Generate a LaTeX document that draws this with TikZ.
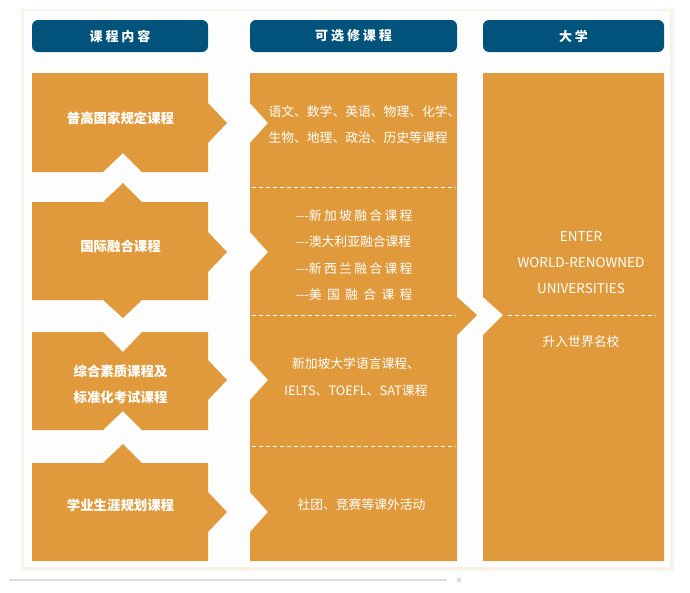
\documentclass[tikz,border=0pt]{standalone}
\usepackage{fontspec}
\newfontfamily\cjk{Noto Sans CJK SC}
\usetikzlibrary{positioning}
\definecolor{hdrblue}{RGB}{2,83,123}
\definecolor{boxorange}{RGB}{224,154,59}
\definecolor{cardshade}{RGB}{244,238,220}
\definecolor{cardwhite}{RGB}{253,253,253}
\definecolor{rulegray}{RGB}{222,222,222}

\begin{document}
\begin{tikzpicture}[x=1pt,y=1pt,yscale=-1,xscale=1,
  hdr/.style={fill=hdrblue,rounded corners=6pt,minimum height=32pt,inner sep=0pt,text=white,font=\cjk\bfseries\fontsize{13}{15}\selectfont},
  lbl/.style={text=white,font=\cjk\bfseries\fontsize{13.4}{26}\selectfont,align=center},
  txt/.style={text=white,font=\cjk\fontsize{12.8}{26.5}\selectfont},
  sep/.style={draw=white,line width=1pt,dash pattern={on 4pt off 3pt}}]
 		\useasboundingbox (0,0) rectangle (690,592);
 		
 		%Shape: Card with shadow
 		\fill [cardshade,opacity=0.35] (20,8) rectangle (675,572);
 		\fill [cardshade,opacity=0.6] (22,10) rectangle (673,570);
 		\fill [cardwhite] (24,11) rectangle (670,567);
 		%Straight Lines: rule under the card
 		\draw [rulegray,line width=1.2pt] (9,580) -- (447,580);
 		\fill [rulegray] (459,580) circle (2.5);
 		
 		%Shape: left box 1
 		\fill [boxorange] (32,73) -- (208,73) -- (208,103) -- (227,123) -- (208,143) -- (208,172) -- (142,172) -- (123,153) -- (103,172) -- (32,172) -- cycle ;
 		%Shape: left box 2
 		\fill [boxorange] (32,202) -- (103,202) -- (123,183) -- (142,202) -- (208,202) -- (208,232) -- (227,252) -- (208,272) -- (208,300) -- (142,300) -- (123,318) -- (103,300) -- (32,300) -- cycle ;
 		%Shape: left box 3
 		\fill [boxorange] (32,332) -- (103,332) -- (123,352) -- (142,332) -- (208,332) -- (208,360) -- (227,380) -- (208,400) -- (208,430) -- (142,430) -- (123,411) -- (103,430) -- (32,430) -- cycle ;
 		%Shape: left box 4
 		\fill [boxorange] (32,463) -- (103,463) -- (123,444) -- (142,463) -- (208,463) -- (208,492) -- (227,512) -- (208,532) -- (208,561) -- (32,561) -- cycle ;
 		
 		%Shape: middle column
 		\fill [boxorange] (250,73) -- (457,73) -- (457,297) -- (477,315) -- (457,335) -- (457,561) -- (250,561) -- (250,532) -- (268,512) -- (250,492) -- (250,400) -- (268,380) -- (250,360) -- (250,272) -- (268,252) -- (250,232) -- (250,143) -- (268,123) -- (250,103) -- cycle ;
 		%Shape: right column
 		\fill [boxorange] (483,73) -- (664,73) -- (664,561) -- (483,561) -- (483,335) -- (503,315) -- (483,297) -- cycle ;
 		
 		%Straight Lines: dashed separators
 		\draw [sep] (252,187) -- (456,187) ;
 		\draw [sep] (252,315) -- (456,315) ;
 		\draw [sep] (252,446) -- (456,446) ;
 		\draw [sep] (508,315) -- (656,315) ;
 		
 		% Header Nodes
 		\draw (120,36) node (hdrcontent) [hdr,minimum width=176pt] {课 程 内 容};
 		\draw (353.5,36) node (hdroptional) [hdr,minimum width=207pt] {可 选 修 课 程};
 		\draw (573.5,36) node (hdruniv) [hdr,minimum width=181pt] {大 学};
 		
 		% Text Node
 		\draw (120.5,118) node (national) [lbl] {普高国家规定课程};
 		% Text Node
 		\draw (120.5,246) node (fusion) [lbl] {国际融合课程};
 		% Text Node
 		\draw (120.5,384) node (quality) [lbl] {综合素质课程及\\标准化考试课程};
 		% Text Node
 		\draw (120.5,505) node (career) [lbl] {学业生涯规划课程};
 		
 		% Text Node
 		\draw (265,124.5) node (subjects) [txt,anchor=west,align=left] {语文、数学、英语、物理、化学、\\生物、地理、政治、历史等课程};
 		% Text Node
 		\draw (292,255) node (fusionlist) [txt,anchor=west,align=left] {\makebox[117pt][s]{{-}{-}{-}新 加 坡 融 合 课 程}\\{-}{-}{-}澳大利亚融合课程\\\makebox[117pt][s]{{-}{-}{-}新 西 兰 融 合 课 程}\\\makebox[117pt][s]{{-}{-}{-}美 国 融 合 课 程}};
 		% Text Node
 		\draw (356,377) node (language) [txt,align=center] {新加坡大学语言课程、\\IELTS、TOEFL、SAT课程};
 		% Text Node
 		\draw (361.5,505) node (activity) [txt] {社团、竞赛等课外活动};
 		
 		% Text Node
 		\draw (581,263) node (enter) [txt,align=center,font=\cjk\fontsize{13.5}{26}\selectfont] {ENTER\\WORLD-RENOWNED\\UNIVERSITIES};
 		% Text Node
 		\draw (581,342) node (famous) [txt] {升入世界名校};
 		
\end{tikzpicture}
\end{document}
